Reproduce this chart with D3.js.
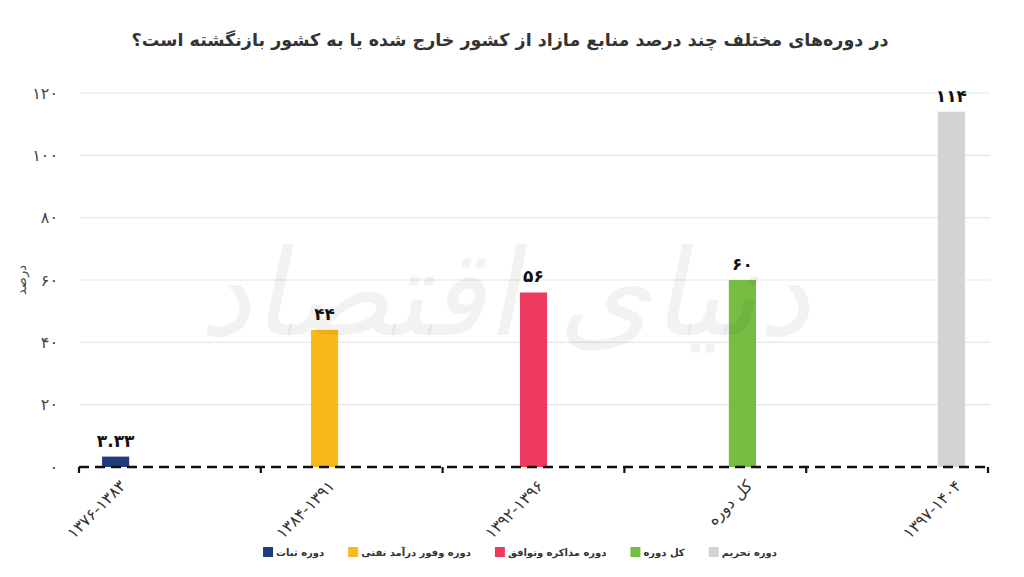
<!DOCTYPE html>
<html>
<head>
<meta charset="utf-8">
<script src="https://cdn.jsdelivr.net/npm/d3@7"></script>
<style>
body{margin:0;background:#fff;}
svg{display:block;font-family:"DejaVu Sans","Noto Sans",sans-serif;}
</style>
</head>
<body>
<div id="chart"></div>
<script>
// chart data
const categories = ["۱۳۷۶-۱۳۸۳", "۱۳۸۴-۱۳۹۱", "۱۳۹۲-۱۳۹۶", "کل دوره", "۱۳۹۷-۱۴۰۴"];
const seriesNames = ["دوره ثبات", "دوره وفور درآمد نفتی", "دوره مذاکره وتوافق", "کل دوره", "دوره تحریم"];
const seriesValues = [3.33, 44, 56, 60, 114];
const seriesColors = ["#1f3d7d", "#fbb81b", "#ee3b5f", "#76bd43", "#d2d3d5"];
const yTicks = [0, 20, 40, 60, 80, 100, 120];
const title = "در دوره‌های مختلف چند درصد منابع مازاد از کشور خارج شده یا به کشور بازنگشته است؟";
const yTitle = "درصد";

const W = 1024, H = 577;
const fa = s => String(s).replace(/[0-9]/g, d => "۰۱۲۳۴۵۶۷۸۹"[+d]);

const svg = d3.select("#chart").append("svg")
  .attr("width", W).attr("height", H);

const x0 = d3.scaleBand().domain(categories).range([79, 988]);
const x1 = d3.scaleBand().domain(seriesNames).range([0, x0.bandwidth()]).paddingOuter(0.85);
const y = d3.scaleLinear().domain([0, 120]).range([467, 93]);

// gridlines
svg.append("g").selectAll("line").data(yTicks.slice(1)).join("line")
  .attr("x1", 80).attr("x2", 990)
  .attr("y1", d => y(d)).attr("y2", d => y(d))
  .attr("stroke", "#e6e6e6").attr("stroke-width", 1.2);

// y axis labels
const yAxis = d3.axisLeft(y).tickValues(yTicks).tickSize(0).tickFormat(fa);
svg.append("g").attr("transform", "translate(61,0)").call(yAxis)
  .call(g => g.select(".domain").remove())
  .selectAll("text").attr("font-size", 16).attr("fill", "#444")
  .attr("font-family", "'DejaVu Sans',sans-serif");

svg.append("text")
  .attr("transform", "translate(26,280) rotate(-90)")
  .attr("text-anchor", "middle").attr("font-size", 13).attr("fill", "#444")
  .text(yTitle);

// bars: one series per category
const bars = seriesNames.map((s, i) => ({cat: categories[i], s: s, v: seriesValues[i], c: seriesColors[i]}));
const cx = d => x0(d.cat) + x1(d.s) + x1.bandwidth() / 2;

svg.append("g").selectAll("rect").data(bars).join("rect")
  .attr("x", d => x0(d.cat) + x1(d.s))
  .attr("width", x1.bandwidth())
  .attr("y", d => y(d.v))
  .attr("height", d => y(0) - y(d.v))
  .attr("fill", d => d.c);

svg.append("g").selectAll("text").data(bars).join("text")
  .attr("x", cx).attr("y", d => y(d.v) - 10)
  .attr("text-anchor", "middle").attr("font-size", 17).attr("font-weight", "bold")
  .attr("fill", "#111")
  .text(d => fa(d.v));

// watermark
svg.append("text")
  .attr("transform", "translate(505,335) skewX(-12)")
  .attr("text-anchor", "middle").attr("font-size", 120)
  .attr("fill", "#000").attr("fill-opacity", 0.05)
  .text("دنیای اقتصاد");

// dashed baseline and category ticks
svg.append("line")
  .attr("x1", 79).attr("x2", 988).attr("y1", y(0)).attr("y2", y(0))
  .attr("stroke", "#111").attr("stroke-width", 2.6).attr("stroke-dasharray", "10,6");
const bounds = categories.map(c => x0(c)).concat([x0.range()[1]]);
svg.append("g").selectAll("line").data(bounds).join("line")
  .attr("x1", d => d).attr("x2", d => d)
  .attr("y1", y(0)).attr("y2", y(0) + 6)
  .attr("stroke", "#111").attr("stroke-width", 2.2);

// category labels
svg.append("g").selectAll("text").data(bars).join("text")
  .attr("transform", d => `translate(${cx(d) + 3},479) rotate(-45)`)
  .attr("text-anchor", "end").attr("dy", "0.7em")
  .attr("font-size", 16).attr("letter-spacing", 0.3).attr("fill", "#333")
  .text(d => d.cat);

// title
svg.append("text")
  .attr("x", 510).attr("y", 46).attr("text-anchor", "middle")
  .attr("font-size", 17.5).attr("font-weight", "bold").attr("fill", "#333")
  .text(title);

// legend
const lg = svg.append("g");
let lx = 0;
seriesNames.forEach((s, i) => {
  const it = lg.append("g").attr("transform", `translate(${lx},0)`);
  it.append("rect").attr("x", 0).attr("y", -9).attr("width", 10).attr("height", 10).attr("fill", seriesColors[i]);
  const t = it.append("text").attr("x", 13).attr("y", 0).attr("font-size", 10).attr("font-weight", "bold")
    .attr("fill", "#333").attr("text-anchor", "start").text(s);
  lx += 13 + t.node().getComputedTextLength() + 24;
});
lg.attr("transform", `translate(${(W - (lx - 24)) / 2 + 8},556)`);
</script>
</body>
</html>
